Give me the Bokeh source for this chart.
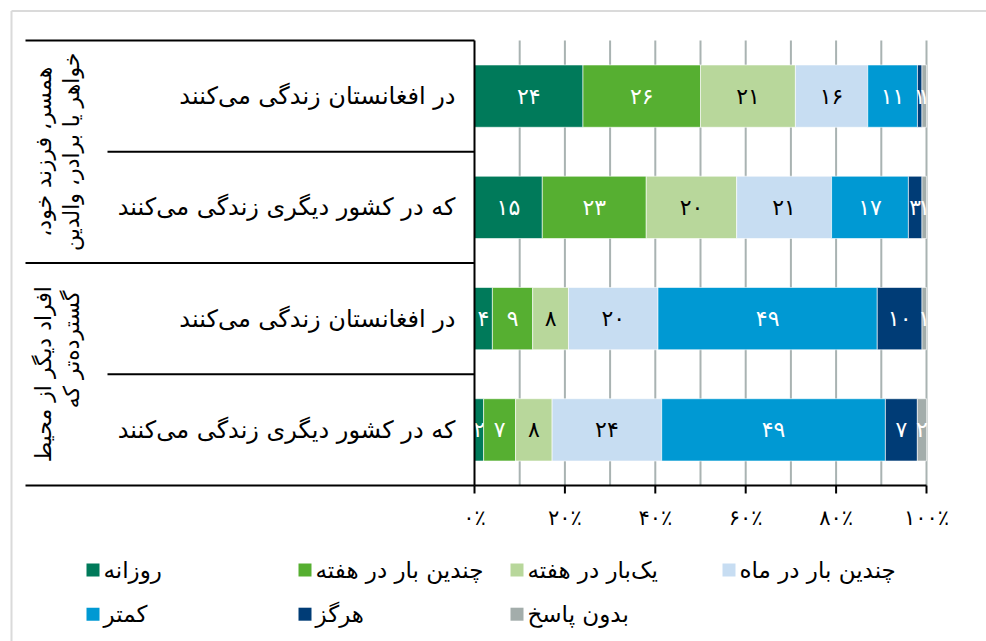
import math
from bokeh.plotting import figure
from bokeh.models import Range1d, ColumnDataSource
from bokeh.core.properties import value
from bokeh.embed import file_html
from bokeh.resources import INLINE

# ---------------- data ----------------
categories = [
    "در افغانستان زندگی می‌کنند",
    "که در کشور دیگری زندگی می‌کنند",
    "در افغانستان زندگی می‌کنند",
    "که در کشور دیگری زندگی می‌کنند",
]
group_lines = [
    ["همسر، فرزند خود،\u200f", "خواهر یا برادر، والدین"],
    ["افراد دیگر از محیط", "گسترده‌تر که"],
]
series_names = ["روزانه", "چندین بار در هفته", "یک‌بار در هفته", "چندین بار در ماه",
                "کمتر", "هرگز", "بدون پاسخ"]
daily = [24, 15, 4, 2]
several_week = [26, 23, 9, 7]
once_week = [21, 20, 8, 8]
several_month = [16, 21, 20, 24]
less = [11, 17, 49, 49]
never = [1, 3, 10, 7]
no_answer = [1, 1, 1, 2]
tick_values = [0, 20, 40, 60, 80, 100]
tick_labels = ["۰٪", "۲۰٪", "۴۰٪", "۶۰٪", "۸۰٪", "۱۰۰٪"]
grid_values = [10, 20, 30, 40, 50, 60, 70, 80, 90, 100]

series_values = [daily, several_week, once_week, several_month, less, never, no_answer]
colors = ["#007A5A", "#56AF31", "#B8D79B", "#C7DDF2", "#0099D3", "#003C76", "#A3ADAB"]
label_colors = ["white", "white", "black", "black", "white", "white", "white"]

FONT = "DejaVu Sans"
W, H = 986, 641
X0_PX, PX_PER_PCT = 474, 4.52
TOP_PX, ROW_PX = 40, 111.25


def fx(px):
    return (px - X0_PX) / PX_PER_PCT


def fy(py):
    return (py - TOP_PX) / ROW_PX - 0.5


def fa(s):
    return s.translate(str.maketrans("0123456789", "۰۱۲۳۴۵۶۷۸۹"))


p = figure(width=W, height=H, output_backend="svg", toolbar_location=None,
           x_range=Range1d(fx(0), fx(W)), y_range=Range1d(fy(H), fy(0)),
           x_axis_type=None, y_axis_type=None, min_border=0,
           background_fill_color="white", border_fill_color="white")
p.outline_line_color = None
p.grid.visible = False

n = len(categories)
rows = list(range(n))
y_top, y_bot = -0.5, n - 0.5

# outer light border (top & left)
p.segment(x0=[fx(11), fx(11)], y0=[fy(10.5), fy(10.5)], x1=[fx(W), fx(11)], y1=[fy(10.5), fy(H)],
          line_color="#DADADA", line_width=2)

# gridlines
p.segment(x0=grid_values, x1=grid_values, y0=[y_top] * len(grid_values), y1=[y_bot] * len(grid_values),
          line_color="#A9B3B2", line_width=2)

# stacked bars
totals = [sum(s[i] for s in series_values) for i in range(n)]
cum = [0.0] * n
for k, vals in enumerate(series_values):
    widths = [vals[i] / totals[i] * 100 for i in range(n)]
    left = cum[:]
    right = [left[i] + widths[i] for i in range(n)]
    src = ColumnDataSource(dict(y=rows, left=left, right=right,
                                xc=[(left[i] + right[i]) / 2 for i in range(n)],
                                lab=[fa(str(v)) for v in vals]))
    p.hbar(y="y", left="left", right="right", height=0.56, source=src,
           fill_color=colors[k], line_color="white", line_width=0.6)
    p.text(x="xc", y="y", text="lab", source=src, text_color=label_colors[k],
           text_font=value(FONT), text_font_size="22px", text_align="center",
           text_baseline="middle")
    cum = right

# table lines
p.segment(x0=[fx(25)] * 3, x1=[0] * 3, y0=[-0.5, 1.5, 3.5], y1=[-0.5, 1.5, 3.5],
          line_color="black", line_width=2)
p.segment(x0=[fx(107)] * 2, x1=[0] * 2, y0=[0.5, 2.5], y1=[0.5, 2.5],
          line_color="black", line_width=2)
# axis lines
p.segment(x0=[0], x1=[0], y0=[y_top], y1=[y_bot], line_color="black", line_width=2)
p.segment(x0=[0], x1=[100], y0=[y_bot], y1=[y_bot], line_color="black", line_width=2)
p.segment(x0=tick_values, x1=tick_values, y0=[y_bot] * len(tick_values),
          y1=[y_bot + 8 / ROW_PX] * len(tick_values), line_color="black", line_width=2)
p.text(x=tick_values, y=[fy(517)] * len(tick_values), text=tick_labels,
       text_font=value(FONT), text_font_size="21px", text_align="center",
       text_baseline="middle", text_color="black")

# category labels
p.text(x=[fx(455)] * n, y=rows, text=categories, text_font=value(FONT),
       text_font_size="24px", text_align="right", text_baseline="middle", text_color="black")

# group labels (rotated)
g_centers = [0.5, 2.5]
p.text(x=[fx(43), fx(43), fx(71)], y=[g_centers[0], g_centers[1], g_centers[0]],
       text=[group_lines[0][0], group_lines[1][0], group_lines[0][1]],
       angle=math.pi / 2, text_font=value(FONT), text_font_size="22px",
       text_align="center", text_baseline="middle", text_color="black")
p.text(x=[fx(71)], y=[fy(290)], text=[group_lines[1][1]],
       angle=math.pi / 2, text_font=value(FONT), text_font_size="22px",
       text_align="right", text_baseline="middle", text_color="black")

# legend (manual, 4 columns)
col_px = [86, 298, 510, 722]
row_py = [569.5, 613.7]
lx, ly, tx = [], [], []
for k in range(len(series_names)):
    r, c = divmod(k, 4)
    lx.append(fx(col_px[c] + 6.5))
    ly.append(fy(row_py[r]))
    tx.append(fx(col_px[c] + 17))
p.rect(x=lx, y=ly, width=13, height=13, width_units="screen", height_units="screen",
       fill_color=colors, line_color=None)
p.text(x=tx, y=ly, text=series_names, text_font=value(FONT), text_font_size="23px",
       text_align="left", text_baseline="middle", text_color="black")

open("out.html", "w").write(file_html(p, INLINE))
